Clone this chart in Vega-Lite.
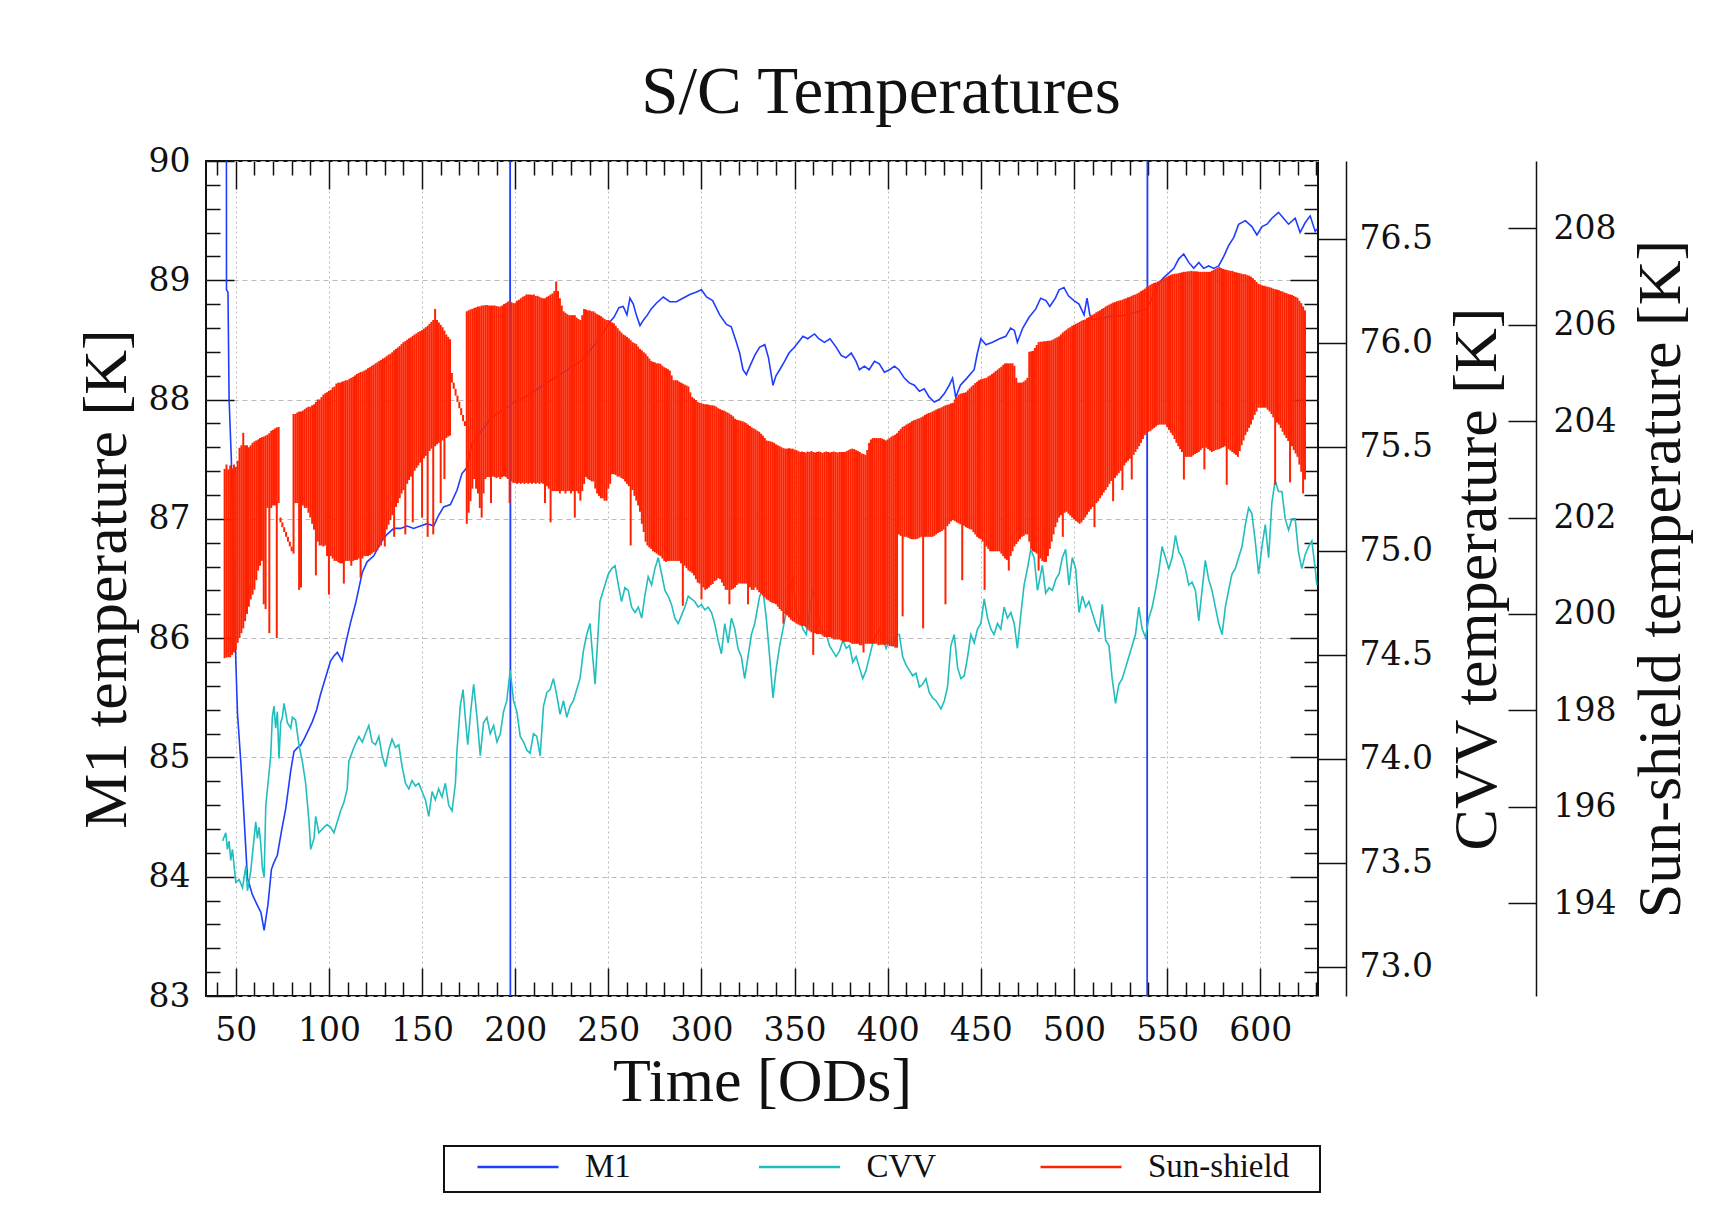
{
  "$schema": "https://vega.github.io/schema/vega-lite/v6.json",
  "width": 1112,
  "height": 835,
  "padding": {"left": 75, "top": 59, "right": 5, "bottom": 5},
  "background": "white",
  "title": {"text": "S/C Temperatures", "font": "Liberation Serif", "fontSize": 67, "fontWeight": "normal", "color": "#111111", "offset": 18, "anchor": "middle", "dx": 119},
  "config": {
    "view": {"stroke": "#111111", "strokeWidth": 2},
    "axis": {
      "tickColor": "#111111", "tickWidth": 1.5, "domainColor": "#111111", "domainWidth": 1.5,
      "labelFont": "DejaVu Serif", "labelFontSize": 33, "labelColor": "#111111", "labelFlush": false, "labelOverlap": false,
      "titleFont": "Liberation Serif", "titleFontSize": 62, "titleFontWeight": "normal", "titleColor": "#111111",
      "grid": false, "gridColor": "#bbbbbb", "gridWidth": 1
    }
  },
  "datasets": {
    "m1": [
      {"t":44.8,"v":96},{"t":45.0,"v":88.92},{"t":45.8,"v":88.9},{"t":46.4,"v":88.0},{"t":47.6,"v":87.5},{"t":48.8,"v":86.6},{"t":50,"v":85.81},{"t":50.9,"v":85.37},{"t":52.7,"v":84.96},{"t":54.1,"v":84.59},{"t":56.25,"v":83.99},{"t":58.9,"v":83.85},{"t":61.6,"v":83.76},{"t":63.5,"v":83.7},{"t":65.2,"v":83.55},{"t":67.3,"v":83.77},{"t":69.1,"v":84.06},{"t":70.5,"v":84.12},{"t":72.3,"v":84.18},{"t":74.5,"v":84.38},{"t":76.8,"v":84.57},{"t":79.5,"v":84.89},{"t":81.25,"v":85.05},{"t":83,"v":85.08},{"t":84.8,"v":85.1},{"t":86.5,"v":85.15},{"t":88.4,"v":85.21},{"t":91.1,"v":85.3},{"t":93.4,"v":85.4},{"t":95.5,"v":85.53},{"t":98.2,"v":85.67},{"t":100.9,"v":85.81},{"t":102.7,"v":85.85},{"t":104.5,"v":85.88},{"t":107.1,"v":85.81},{"t":108.9,"v":85.95},{"t":111.6,"v":86.13},{"t":114.3,"v":86.29},{"t":117.9,"v":86.55},{"t":120.5,"v":86.64},{"t":124.1,"v":86.69},{"t":127.7,"v":86.8},{"t":131.25,"v":86.87},{"t":134.8,"v":86.92},{"t":138.4,"v":86.92},{"t":142,"v":86.94},{"t":145.5,"v":86.92},{"t":149.1,"v":86.94},{"t":152.7,"v":86.96},{"t":156.25,"v":86.94},{"t":158.9,"v":87.03},{"t":161.6,"v":87.1},{"t":165.2,"v":87.12},{"t":168.75,"v":87.24},{"t":171.4,"v":87.38},{"t":174.1,"v":87.43},{"t":176.8,"v":87.63},{"t":180,"v":87.7},{"t":183,"v":87.76},{"t":186.7,"v":87.84},{"t":192,"v":87.9},{"t":197.2,"v":87.95},{"t":197.3,"v":95},{"t":197.4,"v":80},{"t":197.5,"v":87.96},{"t":205,"v":88.02},{"t":215,"v":88.12},{"t":225,"v":88.22},{"t":235.2,"v":88.32},{"t":242,"v":88.45},{"t":248,"v":88.58},{"t":251.3,"v":88.66},{"t":253,"v":88.69},{"t":255.7,"v":88.77},{"t":258,"v":88.78},{"t":260,"v":88.71},{"t":261.6,"v":88.85},{"t":263.4,"v":88.8},{"t":265,"v":88.71},{"t":267,"v":88.62},{"t":269,"v":88.67},{"t":271,"v":88.71},{"t":273,"v":88.76},{"t":275.9,"v":88.81},{"t":279.5,"v":88.86},{"t":283,"v":88.82},{"t":286.6,"v":88.82},{"t":290,"v":88.85},{"t":293.75,"v":88.88},{"t":297,"v":88.9},{"t":300,"v":88.92},{"t":302.7,"v":88.86},{"t":306,"v":88.83},{"t":309.8,"v":88.71},{"t":313.4,"v":88.63},{"t":316,"v":88.61},{"t":318.75,"v":88.48},{"t":320.5,"v":88.39},{"t":322.3,"v":88.25},{"t":324.1,"v":88.21},{"t":326,"v":88.28},{"t":328.6,"v":88.37},{"t":331.25,"v":88.44},{"t":334,"v":88.46},{"t":336,"v":88.35},{"t":338.4,"v":88.12},{"t":340,"v":88.2},{"t":342,"v":88.25},{"t":344.6,"v":88.32},{"t":347,"v":88.39},{"t":350,"v":88.44},{"t":352,"v":88.48},{"t":354.5,"v":88.53},{"t":357,"v":88.51},{"t":360.7,"v":88.55},{"t":363,"v":88.51},{"t":366,"v":88.48},{"t":369,"v":88.51},{"t":372.3,"v":88.44},{"t":375,"v":88.37},{"t":377.5,"v":88.35},{"t":380.4,"v":88.39},{"t":383,"v":88.32},{"t":384.8,"v":88.25},{"t":387.5,"v":88.28},{"t":390,"v":88.25},{"t":392.9,"v":88.32},{"t":395.5,"v":88.3},{"t":398.2,"v":88.23},{"t":401,"v":88.25},{"t":403.6,"v":88.28},{"t":406,"v":88.25},{"t":408.9,"v":88.18},{"t":411.6,"v":88.14},{"t":414.3,"v":88.12},{"t":417,"v":88.07},{"t":419.6,"v":88.09},{"t":422.3,"v":88.02},{"t":425,"v":87.98},{"t":427.7,"v":88.0},{"t":430.4,"v":88.05},{"t":433,"v":88.12},{"t":434.8,"v":88.18},{"t":436.5,"v":88.02},{"t":439,"v":88.12},{"t":442.5,"v":88.18},{"t":446.4,"v":88.25},{"t":448,"v":88.38},{"t":450,"v":88.51},{"t":452.7,"v":88.46},{"t":456.25,"v":88.48},{"t":460,"v":88.51},{"t":463.4,"v":88.53},{"t":466,"v":88.6},{"t":468,"v":88.58},{"t":469.6,"v":88.48},{"t":472.5,"v":88.6},{"t":475.9,"v":88.69},{"t":479.5,"v":88.76},{"t":482.1,"v":88.85},{"t":485,"v":88.83},{"t":487,"v":88.78},{"t":490,"v":88.85},{"t":492,"v":88.92},{"t":494.6,"v":88.94},{"t":497,"v":88.87},{"t":500,"v":88.83},{"t":502.7,"v":88.8},{"t":505.4,"v":88.71},{"t":507,"v":88.85},{"t":508.5,"v":88.71},{"t":509.8,"v":88.67},{"t":515,"v":88.68},{"t":520,"v":88.7},{"t":525,"v":88.7},{"t":530,"v":88.72},{"t":535,"v":88.74},{"t":539.2,"v":88.76},{"t":539.3,"v":80},{"t":539.4,"v":95},{"t":539.5,"v":88.78},{"t":542,"v":88.85},{"t":545.5,"v":88.97},{"t":548,"v":89.02},{"t":550.9,"v":89.06},{"t":553.6,"v":89.1},{"t":556.25,"v":89.18},{"t":558.9,"v":89.22},{"t":561.6,"v":89.15},{"t":564.3,"v":89.1},{"t":567,"v":89.15},{"t":569.6,"v":89.1},{"t":572.3,"v":89.12},{"t":575,"v":89.1},{"t":577.7,"v":89.12},{"t":580.4,"v":89.2},{"t":583,"v":89.29},{"t":585.8,"v":89.36},{"t":588.4,"v":89.47},{"t":592,"v":89.5},{"t":595.5,"v":89.45},{"t":598.2,"v":89.38},{"t":601,"v":89.45},{"t":603.6,"v":89.47},{"t":606.25,"v":89.52},{"t":609.8,"v":89.57},{"t":612.5,"v":89.52},{"t":615.2,"v":89.47},{"t":618.75,"v":89.52},{"t":621.4,"v":89.4},{"t":624,"v":89.48},{"t":626.8,"v":89.54},{"t":629.5,"v":89.41},{"t":630.5,"v":89.43}
    ],
    "cvv": [
      {"t":42.9,"v":73.605},{"t":44.6,"v":73.645},{"t":45.5,"v":73.565},{"t":46.4,"v":73.605},{"t":47.3,"v":73.512},{"t":48.2,"v":73.565},{"t":49.1,"v":73.486},{"t":50,"v":73.406},{"t":51.8,"v":73.42},{"t":53.6,"v":73.38},{"t":55.4,"v":73.486},{"t":56.25,"v":73.366},{"t":58,"v":73.459},{"t":59.8,"v":73.618},{"t":60.7,"v":73.698},{"t":61.6,"v":73.618},{"t":62.5,"v":73.671},{"t":63.4,"v":73.592},{"t":64.3,"v":73.472},{"t":65.2,"v":73.433},{"t":66.1,"v":73.777},{"t":67.3,"v":73.883},{"t":68.75,"v":74.015},{"t":69.6,"v":74.2},{"t":70.5,"v":74.254},{"t":71.4,"v":74.148},{"t":72.3,"v":74.227},{"t":73.2,"v":74.002},{"t":74.1,"v":74.174},{"t":75,"v":74.2},{"t":75.9,"v":74.267},{"t":77.7,"v":74.174},{"t":79.5,"v":74.148},{"t":80.4,"v":74.2},{"t":82.1,"v":74.187},{"t":83.9,"v":74.068},{"t":85.7,"v":73.989},{"t":87.5,"v":73.883},{"t":89.3,"v":73.698},{"t":90.2,"v":73.565},{"t":92,"v":73.618},{"t":92.9,"v":73.724},{"t":94.6,"v":73.645},{"t":97.3,"v":73.671},{"t":99.1,"v":73.684},{"t":100.9,"v":73.671},{"t":102.7,"v":73.645},{"t":104.5,"v":73.698},{"t":106.25,"v":73.75},{"t":108,"v":73.79},{"t":109.8,"v":73.856},{"t":110.7,"v":73.989},{"t":113.4,"v":74.055},{"t":116.1,"v":74.108},{"t":117.9,"v":74.081},{"t":119.6,"v":74.121},{"t":121.4,"v":74.161},{"t":123.2,"v":74.081},{"t":125,"v":74.068},{"t":126.8,"v":74.108},{"t":128.6,"v":74.015},{"t":130.4,"v":73.962},{"t":132.1,"v":74.042},{"t":133.9,"v":74.095},{"t":135.7,"v":74.055},{"t":137.5,"v":74.068},{"t":139.3,"v":73.962},{"t":141.1,"v":73.883},{"t":142.9,"v":73.856},{"t":144.6,"v":73.896},{"t":146.4,"v":73.87},{"t":148.2,"v":73.883},{"t":150,"v":73.843},{"t":151.8,"v":73.803},{"t":153.6,"v":73.724},{"t":155.4,"v":73.843},{"t":157.1,"v":73.803},{"t":158.9,"v":73.856},{"t":160.7,"v":73.817},{"t":162.5,"v":73.883},{"t":164.3,"v":73.777},{"t":166.1,"v":73.75},{"t":167.9,"v":73.883},{"t":168.75,"v":74.042},{"t":170.5,"v":74.254},{"t":172,"v":74.333},{"t":173.2,"v":74.2},{"t":174.5,"v":74.068},{"t":176.25,"v":74.24},{"t":177.7,"v":74.359},{"t":179.5,"v":74.2},{"t":181.25,"v":74.015},{"t":183,"v":74.174},{"t":184.8,"v":74.2},{"t":186.6,"v":74.121},{"t":188.4,"v":74.161},{"t":190.2,"v":74.081},{"t":192,"v":74.121},{"t":193.75,"v":74.227},{"t":195.5,"v":74.28},{"t":197.3,"v":74.426},{"t":199.1,"v":74.28},{"t":200.9,"v":74.227},{"t":202.7,"v":74.108},{"t":204.5,"v":74.081},{"t":206.25,"v":74.042},{"t":208,"v":74.028},{"t":209.8,"v":74.121},{"t":211.6,"v":74.108},{"t":213.4,"v":74.015},{"t":215.2,"v":74.254},{"t":217,"v":74.32},{"t":218.75,"v":74.333},{"t":220.5,"v":74.386},{"t":222.3,"v":74.307},{"t":224.1,"v":74.214},{"t":225.9,"v":74.28},{"t":227.7,"v":74.2},{"t":229.5,"v":74.254},{"t":231.25,"v":74.28},{"t":233,"v":74.333},{"t":234.8,"v":74.386},{"t":236.6,"v":74.518},{"t":238.4,"v":74.598},{"t":240.2,"v":74.651},{"t":241.1,"v":74.545},{"t":242.9,"v":74.359},{"t":243.75,"v":74.492},{"t":245.5,"v":74.757},{"t":248.2,"v":74.836},{"t":250,"v":74.889},{"t":251.8,"v":74.915},{"t":253.6,"v":74.929},{"t":255.4,"v":74.836},{"t":257.1,"v":74.757},{"t":258.9,"v":74.823},{"t":260.7,"v":74.81},{"t":262.5,"v":74.73},{"t":264.3,"v":74.704},{"t":266.1,"v":74.73},{"t":267.9,"v":74.677},{"t":269.6,"v":74.783},{"t":271.4,"v":74.876},{"t":273.2,"v":74.836},{"t":275,"v":74.915},{"t":276.8,"v":74.968},{"t":278.6,"v":74.889},{"t":280.4,"v":74.81},{"t":282.1,"v":74.783},{"t":283.9,"v":74.743},{"t":285.7,"v":74.677},{"t":287.5,"v":74.651},{"t":289.3,"v":74.69},{"t":291.1,"v":74.73},{"t":292.9,"v":74.783},{"t":294.6,"v":74.77},{"t":296.4,"v":74.757},{"t":298.2,"v":74.73},{"t":300,"v":74.743},{"t":301.8,"v":74.717},{"t":303.6,"v":74.73},{"t":305.4,"v":74.704},{"t":307.1,"v":74.651},{"t":308.9,"v":74.571},{"t":310.7,"v":74.505},{"t":312.5,"v":74.651},{"t":314.3,"v":74.558},{"t":316.1,"v":74.677},{"t":317.9,"v":74.624},{"t":319.6,"v":74.532},{"t":321.4,"v":74.492},{"t":323.2,"v":74.386},{"t":325,"v":74.492},{"t":326.8,"v":74.598},{"t":328.6,"v":74.651},{"t":331.25,"v":74.783},{"t":333,"v":74.81},{"t":334.8,"v":74.677},{"t":336.6,"v":74.492},{"t":338.4,"v":74.293},{"t":340.2,"v":74.439},{"t":342,"v":74.545},{"t":343.75,"v":74.624},{"t":345.5,"v":74.704},{"t":347.3,"v":74.783},{"t":349.1,"v":74.876},{"t":350.9,"v":74.704},{"t":352.7,"v":74.677},{"t":354.5,"v":74.624},{"t":356.25,"v":74.598},{"t":358,"v":74.704},{"t":359.8,"v":74.81},{"t":361.6,"v":74.77},{"t":363.4,"v":74.651},{"t":365.2,"v":74.611},{"t":367,"v":74.598},{"t":368.75,"v":74.545},{"t":370.5,"v":74.518},{"t":372.3,"v":74.492},{"t":374.1,"v":74.518},{"t":375.9,"v":74.571},{"t":377.7,"v":74.532},{"t":379.5,"v":74.545},{"t":381.25,"v":74.465},{"t":383,"v":74.492},{"t":384.8,"v":74.439},{"t":386.6,"v":74.386},{"t":388.4,"v":74.426},{"t":390.2,"v":74.492},{"t":392,"v":74.558},{"t":393.75,"v":74.598},{"t":395.5,"v":74.624},{"t":397.3,"v":74.584},{"t":399.1,"v":74.532},{"t":400.9,"v":74.571},{"t":402.7,"v":74.545},{"t":404.5,"v":74.598},{"t":406.25,"v":74.598},{"t":408,"v":74.492},{"t":409.8,"v":74.452},{"t":411.6,"v":74.426},{"t":413.4,"v":74.4},{"t":415.2,"v":74.412},{"t":417,"v":74.346},{"t":418.75,"v":74.359},{"t":420.5,"v":74.386},{"t":422.3,"v":74.32},{"t":424.1,"v":74.293},{"t":425.9,"v":74.28},{"t":428.6,"v":74.24},{"t":430.4,"v":74.28},{"t":432.1,"v":74.346},{"t":433.9,"v":74.545},{"t":435.7,"v":74.598},{"t":437.5,"v":74.439},{"t":439.3,"v":74.386},{"t":441.1,"v":74.4},{"t":442.9,"v":74.492},{"t":444.6,"v":74.598},{"t":446.4,"v":74.558},{"t":448.2,"v":74.624},{"t":450,"v":74.651},{"t":451.8,"v":74.77},{"t":453.6,"v":74.677},{"t":455.4,"v":74.624},{"t":457.1,"v":74.598},{"t":458.9,"v":74.651},{"t":460.7,"v":74.624},{"t":462.5,"v":74.73},{"t":464.3,"v":74.677},{"t":466.1,"v":74.704},{"t":467.9,"v":74.651},{"t":469.6,"v":74.532},{"t":471.4,"v":74.69},{"t":473.2,"v":74.836},{"t":475,"v":74.915},{"t":476.8,"v":75.008},{"t":478.6,"v":74.968},{"t":480.4,"v":74.81},{"t":483,"v":74.929},{"t":484.8,"v":74.797},{"t":486.6,"v":74.823},{"t":488.4,"v":74.81},{"t":490.2,"v":74.863},{"t":492,"v":74.889},{"t":493.75,"v":74.968},{"t":495.5,"v":75.008},{"t":497.3,"v":74.836},{"t":499.1,"v":74.968},{"t":500.9,"v":74.915},{"t":502.7,"v":74.704},{"t":504.5,"v":74.783},{"t":506.25,"v":74.73},{"t":508,"v":74.757},{"t":509.8,"v":74.704},{"t":511.6,"v":74.651},{"t":513.4,"v":74.611},{"t":515.2,"v":74.743},{"t":517,"v":74.571},{"t":518.75,"v":74.545},{"t":520.5,"v":74.386},{"t":522.3,"v":74.267},{"t":524.1,"v":74.359},{"t":525.9,"v":74.386},{"t":527.7,"v":74.439},{"t":529.5,"v":74.492},{"t":531.25,"v":74.545},{"t":533,"v":74.598},{"t":534.8,"v":74.73},{"t":536.6,"v":74.624},{"t":538.4,"v":74.584},{"t":540.2,"v":74.677},{"t":542,"v":74.73},{"t":543.75,"v":74.81},{"t":545.5,"v":74.902},{"t":547.3,"v":75.021},{"t":549.1,"v":74.968},{"t":550.9,"v":74.915},{"t":552.7,"v":74.968},{"t":554.5,"v":75.075},{"t":556.25,"v":74.995},{"t":558,"v":74.968},{"t":559.8,"v":74.915},{"t":561.6,"v":74.836},{"t":563.4,"v":74.85},{"t":565.2,"v":74.81},{"t":567,"v":74.664},{"t":568.75,"v":74.81},{"t":570.5,"v":74.955},{"t":572.3,"v":74.863},{"t":574.1,"v":74.81},{"t":575.9,"v":74.73},{"t":577.7,"v":74.651},{"t":579.5,"v":74.598},{"t":581.25,"v":74.73},{"t":583,"v":74.81},{"t":584.8,"v":74.889},{"t":586.6,"v":74.915},{"t":588.4,"v":74.968},{"t":590.2,"v":75.021},{"t":592,"v":75.127},{"t":593.75,"v":75.207},{"t":595.5,"v":75.18},{"t":597.3,"v":75.048},{"t":599.1,"v":74.889},{"t":600.9,"v":75.021},{"t":602.7,"v":75.127},{"t":604.5,"v":74.968},{"t":606.25,"v":75.233},{"t":608,"v":75.339},{"t":609.8,"v":75.286},{"t":611.6,"v":75.286},{"t":613.4,"v":75.154},{"t":615.2,"v":75.101},{"t":617,"v":75.154},{"t":618.75,"v":75.154},{"t":620.5,"v":74.995},{"t":622.3,"v":74.915},{"t":624.1,"v":74.982},{"t":625.9,"v":75.021},{"t":627.7,"v":75.048},{"t":629.5,"v":74.915},{"t":630.4,"v":74.836}
    ],
    "ss": [
      {"t":44,"lo":199.08,"hi":203.01},{"t":45,"lo":199.1,"hi":203.1},{"t":46,"lo":199.1,"hi":203.0},{"t":47,"lo":199.1,"hi":203.08},{"t":48,"lo":199.15,"hi":203.02},{"t":49,"lo":199.2,"hi":203.1},{"t":50,"lo":199.25,"hi":203.05},{"t":51,"lo":199.4,"hi":203.18},{"t":52,"lo":199.5,"hi":203.45},{"t":53,"lo":199.6,"hi":203.5},{"t":54,"lo":199.7,"hi":203.76},{"t":55,"lo":199.85,"hi":203.5},{"t":56,"lo":200.0,"hi":203.5},{"t":57,"lo":200.15,"hi":203.46},{"t":58,"lo":200.3,"hi":203.5},{"t":59,"lo":200.4,"hi":203.55},{"t":60,"lo":200.5,"hi":203.58},{"t":61,"lo":200.7,"hi":203.6},{"t":62,"lo":200.9,"hi":203.62},{"t":63,"lo":201.0,"hi":203.65},{"t":64,"lo":201.1,"hi":203.67},{"t":65,"lo":200.2,"hi":203.68},{"t":66,"lo":200.1,"hi":203.7},{"t":67,"lo":202.2,"hi":203.72},{"t":68,"lo":199.6,"hi":203.75},{"t":69,"lo":202.2,"hi":203.8},{"t":70,"lo":202.25,"hi":203.82},{"t":71,"lo":202.25,"hi":203.85},{"t":72,"lo":199.5,"hi":203.87},{"t":73,"lo":202.3,"hi":203.88},
      {"t":74,"lo":201.9,"hi":202.0},{"t":75,"lo":201.8,"hi":201.9},{"t":76,"lo":201.7,"hi":201.8},{"t":77,"lo":201.6,"hi":201.7},{"t":78,"lo":201.5,"hi":201.6},{"t":79,"lo":201.4,"hi":201.5},{"t":80,"lo":201.3,"hi":201.4},
      {"t":81,"lo":201.25,"hi":204.15},{"t":82,"lo":202.3,"hi":204.15},{"t":83,"lo":202.3,"hi":204.18},{"t":84,"lo":200.5,"hi":204.2},{"t":85,"lo":200.55,"hi":204.2},{"t":86,"lo":202.25,"hi":204.22},{"t":87,"lo":202.2,"hi":204.25},{"t":88,"lo":202.2,"hi":204.28},{"t":89,"lo":202.1,"hi":204.3},{"t":90,"lo":202.0,"hi":204.3},{"t":91,"lo":201.87,"hi":204.33},{"t":92,"lo":201.75,"hi":204.35},{"t":93,"lo":200.8,"hi":204.4},{"t":94,"lo":201.5,"hi":204.45},{"t":95,"lo":201.42,"hi":204.45},{"t":96,"lo":201.42,"hi":204.5},{"t":97,"lo":201.4,"hi":204.55},{"t":98,"lo":201.42,"hi":204.58},{"t":99,"lo":201.2,"hi":204.6},
      {"t":100,"lo":200.4,"hi":204.63},{"t":101,"lo":201.2,"hi":204.65},{"t":102,"lo":201.15,"hi":204.7},{"t":103,"lo":201.1,"hi":204.72},{"t":104,"lo":201.1,"hi":204.78},{"t":105,"lo":201.07,"hi":204.8},{"t":106,"lo":201.05,"hi":204.8},{"t":107,"lo":201.05,"hi":204.82},{"t":108,"lo":200.63,"hi":204.83},{"t":109,"lo":201.1,"hi":204.85},{"t":110,"lo":201.1,"hi":204.85},{"t":111,"lo":201.1,"hi":204.88},{"t":112,"lo":201.0,"hi":204.9},{"t":113,"lo":201.1,"hi":204.92},{"t":114,"lo":201.12,"hi":204.95},{"t":115,"lo":201.12,"hi":204.98},{"t":116,"lo":201.15,"hi":205.0},{"t":117,"lo":200.75,"hi":205.02},{"t":118,"lo":201.15,"hi":205.03},{"t":119,"lo":201.2,"hi":205.05},{"t":120,"lo":201.2,"hi":205.07},{"t":121,"lo":201.2,"hi":205.1},{"t":122,"lo":201.22,"hi":205.12},{"t":123,"lo":201.25,"hi":205.15},{"t":124,"lo":201.28,"hi":205.17},{"t":125,"lo":201.3,"hi":205.2},{"t":126,"lo":201.32,"hi":205.22},{"t":127,"lo":201.38,"hi":205.25},{"t":128,"lo":201.42,"hi":205.27},{"t":129,"lo":201.55,"hi":205.3},{"t":130,"lo":201.4,"hi":205.32},{"t":131,"lo":201.75,"hi":205.35},{"t":132,"lo":201.85,"hi":205.38},{"t":133,"lo":201.95,"hi":205.4},{"t":134,"lo":202.05,"hi":205.43},{"t":135,"lo":201.6,"hi":205.47},{"t":136,"lo":202.22,"hi":205.5},{"t":137,"lo":202.3,"hi":205.53},{"t":138,"lo":202.4,"hi":205.56},{"t":139,"lo":202.5,"hi":205.6},{"t":140,"lo":202.57,"hi":205.64},{"t":141,"lo":201.65,"hi":205.66},{"t":142,"lo":202.7,"hi":205.69},{"t":143,"lo":202.78,"hi":205.72},{"t":144,"lo":202.85,"hi":205.74},{"t":145,"lo":201.9,"hi":205.77},{"t":146,"lo":202.97,"hi":205.8},{"t":147,"lo":203.03,"hi":205.82},{"t":148,"lo":203.08,"hi":205.85},{"t":149,"lo":203.14,"hi":205.87},{"t":150,"lo":202.0,"hi":205.89},{"t":151,"lo":203.23,"hi":205.92},{"t":152,"lo":203.28,"hi":205.95},{"t":153,"lo":201.6,"hi":205.98},{"t":154,"lo":203.38,"hi":206.02},{"t":155,"lo":203.43,"hi":206.06},{"t":156,"lo":201.65,"hi":206.1},{"t":157,"lo":203.48,"hi":206.33},{"t":158,"lo":203.52,"hi":206.1},{"t":159,"lo":203.55,"hi":206.05},{"t":160,"lo":202.3,"hi":206.0},{"t":161,"lo":203.6,"hi":205.95},{"t":162,"lo":202.8,"hi":205.88},{"t":163,"lo":203.65,"hi":205.8},{"t":164,"lo":203.68,"hi":205.75},{"t":165,"lo":203.7,"hi":205.7},
      {"t":166,"lo":204.8,"hi":205.0},{"t":167,"lo":204.67,"hi":204.8},{"t":168,"lo":204.53,"hi":204.67},{"t":169,"lo":204.4,"hi":204.53},{"t":170,"lo":204.27,"hi":204.4},{"t":171,"lo":204.13,"hi":204.27},{"t":172,"lo":204.0,"hi":204.13},{"t":173,"lo":203.9,"hi":204.0},
      {"t":174,"lo":201.87,"hi":206.28},{"t":175,"lo":202.1,"hi":206.3},{"t":176,"lo":202.34,"hi":206.32},{"t":177,"lo":202.6,"hi":206.33},{"t":178,"lo":202.8,"hi":206.35},{"t":179,"lo":202.6,"hi":206.36},{"t":180,"lo":202.5,"hi":206.38},{"t":181,"lo":202.2,"hi":206.38},{"t":182,"lo":202.0,"hi":206.4},{"t":183,"lo":202.5,"hi":206.4},{"t":184,"lo":202.8,"hi":206.41},{"t":185,"lo":202.84,"hi":206.41},{"t":186,"lo":202.84,"hi":206.4},{"t":187,"lo":202.3,"hi":206.4},{"t":188,"lo":202.85,"hi":206.4},{"t":189,"lo":202.84,"hi":206.4},{"t":190,"lo":202.82,"hi":206.39},{"t":191,"lo":202.84,"hi":206.38},{"t":192,"lo":202.8,"hi":206.38},{"t":193,"lo":202.84,"hi":206.4},{"t":194,"lo":202.86,"hi":206.43},{"t":195,"lo":202.84,"hi":206.45},{"t":196,"lo":202.8,"hi":206.48},{"t":197,"lo":202.3,"hi":206.5},{"t":198,"lo":202.75,"hi":206.47},{"t":199,"lo":202.72,"hi":206.45},{"t":200,"lo":202.72,"hi":206.45},{"t":201,"lo":202.7,"hi":206.5},{"t":202,"lo":202.72,"hi":206.52},{"t":203,"lo":202.7,"hi":206.55},{"t":204,"lo":202.72,"hi":206.58},{"t":205,"lo":202.7,"hi":206.6},{"t":206,"lo":202.72,"hi":206.63},{"t":207,"lo":202.7,"hi":206.63},{"t":208,"lo":202.72,"hi":206.63},{"t":209,"lo":202.7,"hi":206.62},{"t":210,"lo":202.72,"hi":206.63},{"t":211,"lo":202.7,"hi":206.6},{"t":212,"lo":202.72,"hi":206.6},{"t":213,"lo":202.7,"hi":206.58},{"t":214,"lo":202.72,"hi":206.56},{"t":215,"lo":202.7,"hi":206.55},{"t":216,"lo":202.3,"hi":206.55},{"t":217,"lo":202.65,"hi":206.58},{"t":218,"lo":202.6,"hi":206.6},{"t":219,"lo":201.9,"hi":206.63},{"t":220,"lo":202.55,"hi":206.65},{"t":221,"lo":202.55,"hi":206.7},{"t":222,"lo":202.55,"hi":206.9},{"t":223,"lo":202.55,"hi":206.7},{"t":224,"lo":202.5,"hi":206.55},{"t":225,"lo":202.55,"hi":206.4},{"t":226,"lo":202.55,"hi":206.28},{"t":227,"lo":202.5,"hi":206.25},{"t":228,"lo":202.55,"hi":206.22},{"t":229,"lo":202.55,"hi":206.2},{"t":230,"lo":202.5,"hi":206.2},{"t":231,"lo":202.55,"hi":206.2},{"t":232,"lo":202.0,"hi":206.2},{"t":233,"lo":202.55,"hi":206.15},{"t":234,"lo":202.5,"hi":206.12},{"t":235,"lo":202.35,"hi":206.1},{"t":236,"lo":202.55,"hi":206.2},{"t":237,"lo":202.7,"hi":206.33},{"t":238,"lo":202.84,"hi":206.32},{"t":239,"lo":202.8,"hi":206.3},{"t":240,"lo":202.78,"hi":206.3},{"t":241,"lo":202.75,"hi":206.28},{"t":242,"lo":202.75,"hi":206.28},{"t":243,"lo":202.6,"hi":206.25},{"t":244,"lo":202.5,"hi":206.22},{"t":245,"lo":202.45,"hi":206.2},{"t":246,"lo":202.4,"hi":206.18},{"t":247,"lo":202.4,"hi":206.15},{"t":248,"lo":202.35,"hi":206.12},{"t":249,"lo":202.35,"hi":206.1},{"t":250,"lo":202.6,"hi":206.1},
      {"t":251,"lo":202.7,"hi":206.08},{"t":252,"lo":202.9,"hi":206.05},{"t":253,"lo":202.9,"hi":206.03},{"t":254,"lo":202.88,"hi":205.98},{"t":255,"lo":202.85,"hi":205.93},{"t":256,"lo":202.85,"hi":205.88},{"t":257,"lo":202.82,"hi":205.84},{"t":258,"lo":202.8,"hi":205.8},{"t":259,"lo":202.75,"hi":205.78},{"t":260,"lo":202.7,"hi":205.75},{"t":261,"lo":202.65,"hi":205.72},{"t":262,"lo":201.42,"hi":205.68},{"t":263,"lo":202.57,"hi":205.64},{"t":264,"lo":202.45,"hi":205.62},{"t":265,"lo":202.35,"hi":205.6},{"t":266,"lo":202.25,"hi":205.55},{"t":267,"lo":202.12,"hi":205.5},{"t":268,"lo":201.87,"hi":205.47},{"t":269,"lo":201.7,"hi":205.43},{"t":270,"lo":201.5,"hi":205.4},{"t":271,"lo":201.42,"hi":205.35},{"t":272,"lo":201.38,"hi":205.3},{"t":273,"lo":201.35,"hi":205.25},{"t":274,"lo":201.3,"hi":205.23},{"t":275,"lo":201.28,"hi":205.22},{"t":276,"lo":201.25,"hi":205.2},{"t":277,"lo":201.22,"hi":205.2},{"t":278,"lo":201.2,"hi":205.19},{"t":279,"lo":201.15,"hi":205.15},{"t":280,"lo":201.1,"hi":205.12},{"t":281,"lo":201.08,"hi":205.1},{"t":282,"lo":201.1,"hi":205.08},{"t":283,"lo":201.1,"hi":205.05},{"t":284,"lo":201.1,"hi":204.95},{"t":285,"lo":201.1,"hi":204.85},{"t":286,"lo":201.1,"hi":204.85},{"t":287,"lo":201.1,"hi":204.85},{"t":288,"lo":201.1,"hi":204.82},{"t":289,"lo":201.05,"hi":204.8},{"t":290,"lo":200.17,"hi":204.78},{"t":291,"lo":201.0,"hi":204.76},{"t":292,"lo":200.95,"hi":204.74},{"t":293,"lo":200.9,"hi":204.72},{"t":294,"lo":200.88,"hi":204.6},{"t":295,"lo":200.85,"hi":204.5},{"t":296,"lo":200.8,"hi":204.47},{"t":297,"lo":200.72,"hi":204.44},{"t":298,"lo":200.65,"hi":204.4},{"t":299,"lo":200.63,"hi":204.38},{"t":300,"lo":200.3,"hi":204.37},{"t":301,"lo":200.55,"hi":204.36},{"t":302,"lo":200.5,"hi":204.35},{"t":303,"lo":200.52,"hi":204.35},{"t":304,"lo":200.55,"hi":204.34},{"t":305,"lo":200.6,"hi":204.33},{"t":306,"lo":200.62,"hi":204.33},{"t":307,"lo":200.68,"hi":204.32},{"t":308,"lo":200.7,"hi":204.3},{"t":309,"lo":200.74,"hi":204.27},{"t":310,"lo":200.72,"hi":204.25},{"t":311,"lo":200.65,"hi":204.23},{"t":312,"lo":200.58,"hi":204.22},{"t":313,"lo":200.5,"hi":204.2},{"t":314,"lo":200.5,"hi":204.18},{"t":315,"lo":200.2,"hi":204.16},{"t":316,"lo":200.5,"hi":204.13},{"t":317,"lo":200.52,"hi":204.1},{"t":318,"lo":200.55,"hi":204.05},{"t":319,"lo":200.6,"hi":204.03},{"t":320,"lo":200.63,"hi":204.02},{"t":321,"lo":200.63,"hi":204.01},{"t":322,"lo":200.63,"hi":204.0},{"t":323,"lo":200.63,"hi":203.98},{"t":324,"lo":200.63,"hi":203.96},{"t":325,"lo":200.2,"hi":203.93},{"t":326,"lo":200.55,"hi":203.9},{"t":327,"lo":200.5,"hi":203.87},{"t":328,"lo":200.5,"hi":203.85},{"t":329,"lo":200.55,"hi":203.83},{"t":330,"lo":200.5,"hi":203.8},
      {"t":331,"lo":200.45,"hi":203.78},{"t":332,"lo":200.42,"hi":203.74},{"t":333,"lo":200.38,"hi":203.7},{"t":334,"lo":200.34,"hi":203.65},{"t":335,"lo":200.3,"hi":203.6},{"t":336,"lo":200.28,"hi":203.59},{"t":337,"lo":200.25,"hi":203.58},{"t":338,"lo":200.23,"hi":203.57},{"t":339,"lo":200.22,"hi":203.55},{"t":340,"lo":200.2,"hi":203.52},{"t":341,"lo":200.15,"hi":203.5},{"t":342,"lo":200.1,"hi":203.48},{"t":343,"lo":200.06,"hi":203.46},{"t":344,"lo":199.8,"hi":203.44},{"t":345,"lo":200.0,"hi":203.43},{"t":346,"lo":199.97,"hi":203.43},{"t":347,"lo":199.93,"hi":203.44},{"t":348,"lo":199.88,"hi":203.43},{"t":349,"lo":199.85,"hi":203.43},{"t":350,"lo":199.83,"hi":203.41},{"t":351,"lo":199.8,"hi":203.4},{"t":352,"lo":199.78,"hi":203.38},{"t":353,"lo":199.76,"hi":203.36},{"t":354,"lo":199.75,"hi":203.37},{"t":355,"lo":199.75,"hi":203.36},{"t":356,"lo":199.72,"hi":203.35},{"t":357,"lo":199.68,"hi":203.37},{"t":358,"lo":199.65,"hi":203.36},{"t":359,"lo":199.62,"hi":203.38},{"t":360,"lo":199.15,"hi":203.36},{"t":361,"lo":199.6,"hi":203.35},{"t":362,"lo":199.58,"hi":203.36},{"t":363,"lo":199.58,"hi":203.37},{"t":364,"lo":199.58,"hi":203.36},{"t":365,"lo":199.55,"hi":203.34},{"t":366,"lo":199.52,"hi":203.36},{"t":367,"lo":199.52,"hi":203.37},{"t":368,"lo":199.52,"hi":203.36},{"t":369,"lo":199.52,"hi":203.35},{"t":370,"lo":199.5,"hi":203.36},{"t":371,"lo":199.47,"hi":203.37},{"t":372,"lo":199.47,"hi":203.36},{"t":373,"lo":199.47,"hi":203.35},{"t":374,"lo":199.47,"hi":203.36},{"t":375,"lo":199.45,"hi":203.36},{"t":376,"lo":199.42,"hi":203.36},{"t":377,"lo":199.42,"hi":203.36},{"t":378,"lo":199.42,"hi":203.38},{"t":379,"lo":199.42,"hi":203.4},{"t":380,"lo":199.4,"hi":203.42},{"t":381,"lo":199.38,"hi":203.43},{"t":382,"lo":199.38,"hi":203.42},{"t":383,"lo":199.38,"hi":203.4},{"t":384,"lo":199.38,"hi":203.38},{"t":385,"lo":199.35,"hi":203.36},{"t":386,"lo":199.35,"hi":203.33},{"t":387,"lo":199.2,"hi":203.32},{"t":388,"lo":199.38,"hi":203.3},{"t":389,"lo":199.38,"hi":203.4},{"t":390,"lo":199.38,"hi":203.55},{"t":391,"lo":199.38,"hi":203.62},{"t":392,"lo":199.38,"hi":203.65},{"t":393,"lo":199.38,"hi":203.65},{"t":394,"lo":199.38,"hi":203.65},{"t":395,"lo":199.35,"hi":203.65},{"t":396,"lo":199.36,"hi":203.65},{"t":397,"lo":199.36,"hi":203.64},{"t":398,"lo":199.36,"hi":203.62},{"t":399,"lo":199.36,"hi":203.6},{"t":400,"lo":199.37,"hi":203.62},{"t":401,"lo":199.33,"hi":203.65},{"t":402,"lo":199.33,"hi":203.68},{"t":403,"lo":199.33,"hi":203.7},{"t":404,"lo":199.3,"hi":203.72},{"t":405,"lo":199.3,"hi":203.75},
      {"t":406,"lo":201.65,"hi":203.8},{"t":407,"lo":201.62,"hi":203.84},{"t":408,"lo":199.95,"hi":203.88},{"t":409,"lo":201.6,"hi":203.9},{"t":410,"lo":201.6,"hi":203.93},{"t":411,"lo":201.58,"hi":203.95},{"t":412,"lo":201.56,"hi":203.97},{"t":413,"lo":201.55,"hi":204.0},{"t":414,"lo":201.55,"hi":204.02},{"t":415,"lo":201.55,"hi":204.03},{"t":416,"lo":201.56,"hi":204.05},{"t":417,"lo":201.58,"hi":204.06},{"t":418,"lo":201.6,"hi":204.08},{"t":419,"lo":199.7,"hi":204.1},{"t":420,"lo":201.6,"hi":204.13},{"t":421,"lo":201.6,"hi":204.15},{"t":422,"lo":201.6,"hi":204.17},{"t":423,"lo":201.6,"hi":204.18},{"t":424,"lo":201.6,"hi":204.2},{"t":425,"lo":201.62,"hi":204.22},{"t":426,"lo":201.65,"hi":204.24},{"t":427,"lo":201.68,"hi":204.26},{"t":428,"lo":201.7,"hi":204.27},{"t":429,"lo":201.72,"hi":204.29},{"t":430,"lo":201.75,"hi":204.31},{"t":431,"lo":200.2,"hi":204.33},{"t":432,"lo":201.82,"hi":204.34},{"t":433,"lo":201.87,"hi":204.35},{"t":434,"lo":201.92,"hi":204.37},{"t":435,"lo":201.95,"hi":204.38},{"t":436,"lo":201.93,"hi":204.45},{"t":437,"lo":201.9,"hi":204.5},{"t":438,"lo":201.88,"hi":204.55},{"t":439,"lo":201.86,"hi":204.57},{"t":440,"lo":200.7,"hi":204.58},{"t":441,"lo":201.83,"hi":204.59},{"t":442,"lo":201.8,"hi":204.6},{"t":443,"lo":201.78,"hi":204.64},{"t":444,"lo":201.76,"hi":204.68},{"t":445,"lo":201.75,"hi":204.72},{"t":446,"lo":201.7,"hi":204.75},{"t":447,"lo":201.65,"hi":204.79},{"t":448,"lo":201.6,"hi":204.82},{"t":449,"lo":201.57,"hi":204.85},{"t":450,"lo":201.55,"hi":204.87},{"t":451,"lo":201.5,"hi":204.88},{"t":452,"lo":200.5,"hi":204.89},{"t":453,"lo":201.4,"hi":204.9},{"t":454,"lo":201.35,"hi":204.93},{"t":455,"lo":201.3,"hi":204.95},{"t":456,"lo":201.3,"hi":204.98},{"t":457,"lo":201.3,"hi":205.01},{"t":458,"lo":201.3,"hi":205.04},{"t":459,"lo":201.3,"hi":205.07},{"t":460,"lo":201.3,"hi":205.1},{"t":461,"lo":201.25,"hi":205.13},{"t":462,"lo":201.2,"hi":205.17},{"t":463,"lo":201.15,"hi":205.2},{"t":464,"lo":201.12,"hi":205.2},{"t":465,"lo":200.9,"hi":205.2},{"t":466,"lo":201.2,"hi":205.2},{"t":467,"lo":201.3,"hi":205.2},{"t":468,"lo":201.4,"hi":205.15},{"t":469,"lo":201.45,"hi":204.9},{"t":470,"lo":201.5,"hi":204.8},{"t":471,"lo":201.55,"hi":204.8},{"t":472,"lo":201.6,"hi":204.8},{"t":473,"lo":201.62,"hi":204.82},{"t":474,"lo":201.65,"hi":204.85},{"t":475,"lo":201.65,"hi":204.9},{"t":476,"lo":201.5,"hi":205.44},{"t":477,"lo":201.35,"hi":205.45},
      {"t":478,"lo":201.3,"hi":205.46},{"t":479,"lo":201.28,"hi":205.52},{"t":480,"lo":201.25,"hi":205.58},{"t":481,"lo":200.9,"hi":205.64},{"t":482,"lo":201.15,"hi":205.65},{"t":483,"lo":201.1,"hi":205.65},{"t":484,"lo":201.08,"hi":205.66},{"t":485,"lo":201.08,"hi":205.66},{"t":486,"lo":201.2,"hi":205.67},{"t":487,"lo":201.35,"hi":205.67},{"t":488,"lo":201.5,"hi":205.68},{"t":489,"lo":201.65,"hi":205.7},{"t":490,"lo":201.8,"hi":205.72},{"t":491,"lo":201.9,"hi":205.74},{"t":492,"lo":202.0,"hi":205.76},{"t":493,"lo":202.05,"hi":205.8},{"t":494,"lo":201.6,"hi":205.84},{"t":495,"lo":202.1,"hi":205.87},{"t":496,"lo":202.12,"hi":205.9},{"t":497,"lo":202.08,"hi":205.93},{"t":498,"lo":202.04,"hi":205.95},{"t":499,"lo":202.0,"hi":205.98},{"t":500,"lo":201.97,"hi":206.0},{"t":501,"lo":201.93,"hi":206.02},{"t":502,"lo":201.9,"hi":206.04},{"t":503,"lo":201.87,"hi":206.06},{"t":504,"lo":201.9,"hi":206.08},{"t":505,"lo":201.95,"hi":206.1},{"t":506,"lo":202.0,"hi":206.11},{"t":507,"lo":202.06,"hi":206.14},{"t":508,"lo":202.12,"hi":206.16},{"t":509,"lo":202.17,"hi":206.19},{"t":510,"lo":202.22,"hi":206.21},{"t":511,"lo":201.8,"hi":206.23},{"t":512,"lo":202.3,"hi":206.26},{"t":513,"lo":202.34,"hi":206.28},{"t":514,"lo":202.4,"hi":206.3},{"t":515,"lo":202.46,"hi":206.33},{"t":516,"lo":202.52,"hi":206.35},{"t":517,"lo":202.57,"hi":206.38},{"t":518,"lo":202.63,"hi":206.4},{"t":519,"lo":202.7,"hi":206.42},{"t":520,"lo":202.76,"hi":206.44},{"t":521,"lo":202.34,"hi":206.46},{"t":522,"lo":202.82,"hi":206.47},{"t":523,"lo":202.87,"hi":206.49},{"t":524,"lo":202.92,"hi":206.5},{"t":525,"lo":202.97,"hi":206.51},{"t":526,"lo":202.57,"hi":206.52},{"t":527,"lo":203.08,"hi":206.54},{"t":528,"lo":203.14,"hi":206.55},{"t":529,"lo":203.18,"hi":206.57},{"t":530,"lo":203.22,"hi":206.58},{"t":531,"lo":202.79,"hi":206.6},{"t":532,"lo":203.3,"hi":206.62},{"t":533,"lo":203.36,"hi":206.63},{"t":534,"lo":203.42,"hi":206.65},{"t":535,"lo":203.48,"hi":206.67},{"t":536,"lo":203.55,"hi":206.7},{"t":537,"lo":203.63,"hi":206.72},{"t":538,"lo":203.71,"hi":206.75},{"t":539,"lo":203.75,"hi":206.78},{"t":540,"lo":203.78,"hi":206.8},{"t":541,"lo":203.8,"hi":206.83},{"t":542,"lo":203.83,"hi":206.85},{"t":543,"lo":203.86,"hi":206.87},{"t":544,"lo":203.89,"hi":206.88},{"t":545,"lo":203.92,"hi":206.9},{"t":546,"lo":203.93,"hi":206.92},{"t":547,"lo":203.93,"hi":206.94},{"t":548,"lo":203.93,"hi":206.96},{"t":549,"lo":203.93,"hi":206.98},{"t":550,"lo":203.88,"hi":207.0},{"t":551,"lo":203.82,"hi":207.02},{"t":552,"lo":203.76,"hi":207.04},{"t":553,"lo":203.71,"hi":207.05},{"t":554,"lo":203.63,"hi":207.06},{"t":555,"lo":203.55,"hi":207.06},{"t":556,"lo":203.48,"hi":207.07},{"t":557,"lo":203.42,"hi":207.08},{"t":558,"lo":203.36,"hi":207.09},{"t":559,"lo":202.79,"hi":207.1},{"t":560,"lo":203.26,"hi":207.1},{"t":561,"lo":203.26,"hi":207.11},{"t":562,"lo":203.26,"hi":207.11},{"t":563,"lo":203.26,"hi":207.12},{"t":564,"lo":203.29,"hi":207.11},{"t":565,"lo":203.32,"hi":207.11},{"t":566,"lo":203.34,"hi":207.11},{"t":567,"lo":203.36,"hi":207.1},{"t":568,"lo":203.4,"hi":207.1},{"t":569,"lo":203.44,"hi":207.1},{"t":570,"lo":203.0,"hi":207.1},{"t":571,"lo":203.45,"hi":207.1},{"t":572,"lo":203.42,"hi":207.1},{"t":573,"lo":203.39,"hi":207.1},{"t":574,"lo":203.36,"hi":207.12},{"t":575,"lo":203.38,"hi":207.14},{"t":576,"lo":203.4,"hi":207.16},{"t":577,"lo":203.41,"hi":207.18},{"t":578,"lo":203.42,"hi":207.2},{"t":579,"lo":203.44,"hi":207.18},{"t":580,"lo":203.46,"hi":207.16},{"t":581,"lo":203.48,"hi":207.15},{"t":582,"lo":202.68,"hi":207.14},{"t":583,"lo":203.42,"hi":207.13},{"t":584,"lo":203.39,"hi":207.12},{"t":585,"lo":203.36,"hi":207.12},{"t":586,"lo":203.33,"hi":207.1},{"t":587,"lo":203.3,"hi":207.09},{"t":588,"lo":203.26,"hi":207.08},{"t":589,"lo":203.38,"hi":207.07},{"t":590,"lo":203.5,"hi":207.06},{"t":591,"lo":203.6,"hi":207.05},{"t":592,"lo":203.71,"hi":207.05},{"t":593,"lo":203.78,"hi":207.03},{"t":594,"lo":203.86,"hi":207.02},{"t":595,"lo":203.93,"hi":207.0},{"t":596,"lo":204.03,"hi":206.97},{"t":597,"lo":204.13,"hi":206.93},{"t":598,"lo":204.2,"hi":206.89},{"t":599,"lo":204.28,"hi":206.85},{"t":600,"lo":204.28,"hi":206.84},{"t":601,"lo":204.28,"hi":206.82},{"t":602,"lo":204.28,"hi":206.81},{"t":603,"lo":204.28,"hi":206.8},{"t":604,"lo":204.24,"hi":206.79},{"t":605,"lo":204.2,"hi":206.78},{"t":606,"lo":204.15,"hi":206.77},{"t":607,"lo":204.08,"hi":206.75},{"t":608,"lo":202.68,"hi":206.74},{"t":609,"lo":203.97,"hi":206.73},{"t":610,"lo":203.93,"hi":206.72},{"t":611,"lo":203.86,"hi":206.7},{"t":612,"lo":203.78,"hi":206.69},{"t":613,"lo":203.71,"hi":206.67},{"t":614,"lo":203.65,"hi":206.66},{"t":615,"lo":203.59,"hi":206.64},{"t":616,"lo":202.73,"hi":206.63},{"t":617,"lo":203.48,"hi":206.62},{"t":618,"lo":203.4,"hi":206.6},{"t":619,"lo":203.33,"hi":206.58},{"t":620,"lo":203.26,"hi":206.56},{"t":621,"lo":203.1,"hi":206.5},{"t":622,"lo":202.95,"hi":206.45},{"t":623,"lo":202.5,"hi":206.38},{"t":624,"lo":202.79,"hi":206.3}
    ]
  },
  "layer": [
    {
      "data": {"name": "m1"},
      "mark": {"type": "line", "strokeWidth": 1.6, "clip": true},
      "encoding": {
        "x": {"field": "t", "type": "quantitative", "scale": {"domain": [34, 631], "nice": false, "zero": false},
          "axis": {"orient": "bottom", "values": [50,100,150,200,250,300,350,400,450,500,550,600], "title": "Time [ODs]", "grid": true, "gridDash": [2,3], "tickSize": -28, "labelPadding": 46, "titlePadding": 4, "domain": false}},
        "y": {"field": "v", "type": "quantitative", "scale": {"domain": [83, 90], "nice": false, "zero": false},
          "axis": {"orient": "left", "values": [83,84,85,86,87,88,89,90], "title": "M1 temperature [K]", "grid": true, "gridDash": [5,4], "tickSize": -28, "labelPadding": 44, "titlePadding": 10, "domain": false}},
        "color": {"datum": "M1", "type": "nominal",
          "scale": {"domain": ["M1", "CVV", "Sun-shield"], "range": ["#1f3dff", "#22bdbd", "#ff2200"]},
          "legend": {"title": ".", "titleOrient": "right", "titleColor": "transparent", "titleFontSize": 10, "titlePadding": 20,
            "orient": "none", "legendX": 238, "legendY": 985, "direction": "horizontal", "columns": 3, "gridAlign": "all", "columnPadding": 6.5,
            "symbolType": "stroke", "symbolSize": 6561, "symbolStrokeWidth": 2.5, "symbolOffset": 24, "labelOffset": 25, "clipHeight": 26, "labelLimit": 400,
            "labelFont": "Liberation Serif", "labelFontSize": 33, "labelColor": "#111111",
            "strokeColor": "#111111", "padding": 8,
            "encode": {"legend": {"update": {"strokeWidth": {"value": 2}}}}}}
      }
    },
    {
      "data": {"name": "m1"},
      "mark": {"type": "line", "strokeOpacity": 0, "clip": true},
      "encoding": {
        "x": {"field": "t", "type": "quantitative", "scale": {"domain": [34, 631], "nice": false, "zero": false},
          "axis": {"orient": "bottom", "values": [40,60,70,80,90,110,120,130,140,160,170,180,190,210,220,230,240,260,270,280,290,310,320,330,340,360,370,380,390,410,420,430,440,460,470,480,490,510,520,530,540,560,570,580,590,610,620,630], "labels": false, "tickSize": -14, "domain": false, "title": null, "grid": false}},
        "y": {"field": "v", "type": "quantitative", "scale": {"domain": [83, 90], "nice": false, "zero": false},
          "axis": {"orient": "left", "values": [83.2,83.4,83.6,83.8,84.2,84.4,84.6,84.8,85.2,85.4,85.6,85.8,86.2,86.4,86.6,86.8,87.2,87.4,87.6,87.8,88.2,88.4,88.6,88.8,89.2,89.4,89.6,89.8], "labels": false, "tickSize": -14, "domain": false, "title": null, "grid": false}}
      }
    },
    {
      "data": {"name": "m1"},
      "mark": {"type": "line", "strokeOpacity": 0, "clip": true},
      "encoding": {
        "x": {"field": "t", "type": "quantitative", "scale": {"domain": [34, 631], "nice": false, "zero": false},
          "axis": {"orient": "top", "values": [50,100,150,200,250,300,350,400,450,500,550,600], "labels": false, "tickSize": -28, "domain": false, "title": null, "grid": false}},
        "y": {"field": "v", "type": "quantitative", "scale": {"domain": [83, 90], "nice": false, "zero": false},
          "axis": {"orient": "right", "values": [84,85,86,87,88,89], "labels": false, "tickSize": -28, "domain": false, "title": null, "grid": false}}
      }
    },
    {
      "data": {"name": "m1"},
      "mark": {"type": "line", "strokeOpacity": 0, "clip": true},
      "encoding": {
        "x": {"field": "t", "type": "quantitative", "scale": {"domain": [34, 631], "nice": false, "zero": false},
          "axis": {"orient": "top", "values": [40,60,70,80,90,110,120,130,140,160,170,180,190,210,220,230,240,260,270,280,290,310,320,330,340,360,370,380,390,410,420,430,440,460,470,480,490,510,520,530,540,560,570,580,590,610,620,630], "labels": false, "tickSize": -14, "domain": false, "title": null, "grid": false}},
        "y": {"field": "v", "type": "quantitative", "scale": {"domain": [83, 90], "nice": false, "zero": false},
          "axis": {"orient": "right", "values": [83.2,83.4,83.6,83.8,84.2,84.4,84.6,84.8,85.2,85.4,85.6,85.8,86.2,86.4,86.6,86.8,87.2,87.4,87.6,87.8,88.2,88.4,88.6,88.8,89.2,89.4,89.6,89.8], "labels": false, "tickSize": -14, "domain": false, "title": null, "grid": false}}
      }
    },
    {
      "data": {"name": "cvv"},
      "mark": {"type": "line", "strokeWidth": 1.6, "clip": true},
      "encoding": {
        "x": {"field": "t", "type": "quantitative", "scale": {"domain": [34, 631], "nice": false, "zero": false}, "axis": null},
        "y": {"field": "v", "type": "quantitative", "scale": {"domain": [72.86, 76.875], "nice": false, "zero": false},
          "axis": {"orient": "right", "offset": 28, "values": [73.0,73.5,74.0,74.5,75.0,75.5,76.0,76.5], "format": ".1f", "title": "CVV temperature [K]", "titleAngle": 270, "titleBaseline": "top", "tickSize": -28, "labelPadding": 41, "titlePadding": 14, "domain": true, "grid": false}},
        "color": {"datum": "CVV", "type": "nominal"}
      }
    },
    {
      "data": {"name": "ss"},
      "mark": {"type": "rule", "strokeWidth": 2, "clip": true},
      "encoding": {
        "x": {"field": "t", "type": "quantitative", "scale": {"domain": [34, 631], "nice": false, "zero": false}, "axis": null},
        "y": {"field": "lo", "type": "quantitative", "scale": {"domain": [192.07, 209.4], "nice": false, "zero": false},
          "axis": {"orient": "right", "offset": 218, "values": [194,196,198,200,202,204,206,208], "title": "Sun-shield temperature [K]", "titleAngle": 270, "titleBaseline": "top", "tickSize": -28, "labelPadding": 45, "titlePadding": 15, "domain": true, "grid": false}},
        "y2": {"field": "hi"},
        "color": {"datum": "Sun-shield", "type": "nominal"}
      }
    }
  ],
  "resolve": {"scale": {"y": "independent"}, "axis": {"x": "independent", "y": "independent"}}
}
